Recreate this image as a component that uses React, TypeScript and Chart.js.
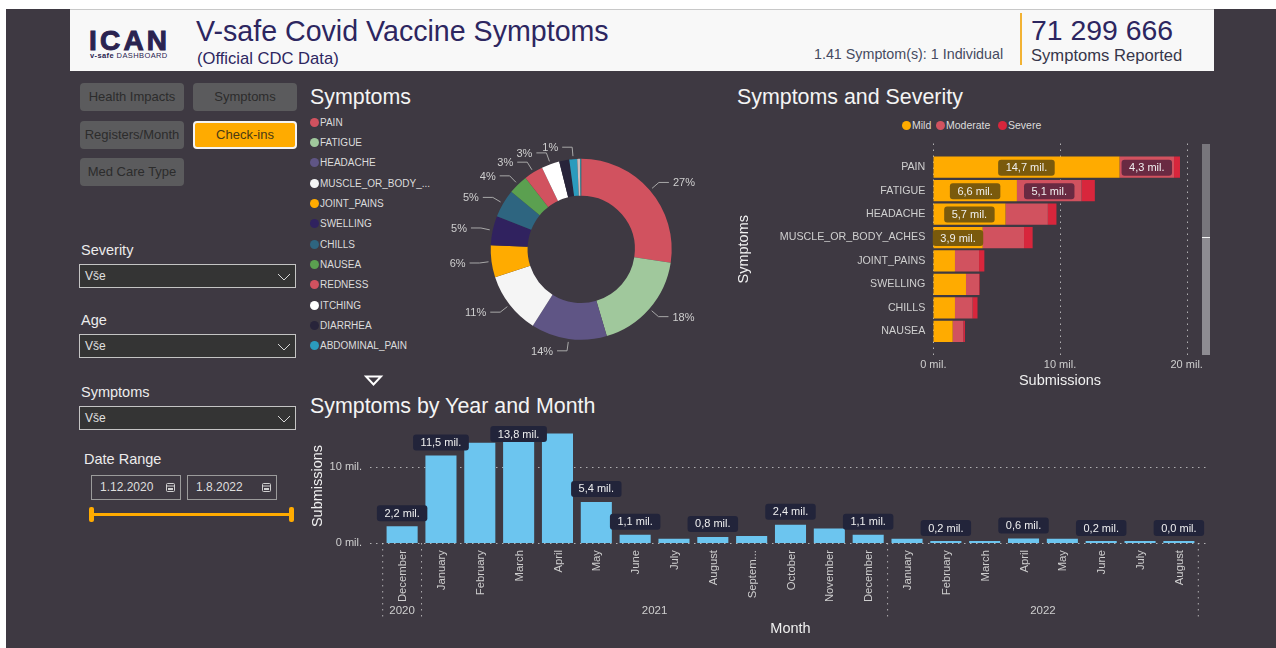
import React, { useEffect, useRef } from "react";
import { Chart, registerables } from "chart.js";

Chart.register(...registerables);

const FONT = '"Liberation Sans", Arial, sans-serif';
const BG = "#3e3942";
const NAVY = "#2d2660";
const TICK = "#cfcfcf";

// Donut
const symptomLabels = ["PAIN", "FATIGUE", "HEADACHE", "MUSCLE_OR_BODY_ACHES", "JOINT_PAINS", "SWELLING", "CHILLS", "NAUSEA", "REDNESS", "ITCHING", "DIARRHEA", "ABDOMINAL_PAIN", "OTHER", "OTHER_2"];
const symptomLegendText = ["PAIN", "FATIGUE", "HEADACHE", "MUSCLE_OR_BODY_...", "JOINT_PAINS", "SWELLING", "CHILLS", "NAUSEA", "REDNESS", "ITCHING", "DIARRHEA", "ABDOMINAL_PAIN"];
const symptomShare = [27.3, 18.0, 13.5, 11.0, 5.7, 5.2, 5.0, 3.5, 3.4, 3.2, 1.8, 1.4, 0.5, 0.2];
const symptomColors = ["#d1525f", "#a0c89c", "#5f5585", "#f5f5f5", "#ffab00", "#30225f", "#2e6580", "#5ba050", "#d1525f", "#ffffff", "#28243a", "#2b9bbd", "#cbbcbc", "#2f8f9f"];
const symptomPctShown = [true, true, true, true, true, true, true, true, true, true, false, true, false, false];

// Severity
const severityLabels = ["PAIN", "FATIGUE", "HEADACHE", "MUSCLE_OR_BODY_ACHES", "JOINT_PAINS", "SWELLING", "CHILLS", "NAUSEA"];
const mildValues = [14.7, 6.6, 5.7, 3.9, 1.71, 2.58, 1.71, 1.53];
const moderateValues = [4.3, 5.1, 3.34, 3.26, 1.9, 1.03, 1.39, 0.84];
const severeValues = [0.47, 1.05, 0.68, 0.68, 0.42, 0.05, 0.39, 0.13];
const mildLabelCount = 4;
const moderateLabelCount = 2;

// Monthly
const monthLabels = ["December", "January", "February", "March", "April", "May", "June", "July", "August", "Septem...", "October", "November", "December", "January", "February", "March", "April", "May", "June", "July", "August"];
const monthYears = [2020, 2021, 2021, 2021, 2021, 2021, 2021, 2021, 2021, 2021, 2021, 2021, 2021, 2022, 2022, 2022, 2022, 2022, 2022, 2022, 2022];
const monthValues = [2.2, 11.5, 13.2, 13.8, 14.4, 5.4, 1.1, 0.55, 0.8, 0.92, 2.4, 1.9, 1.1, 0.55, 0.2, 0.2, 0.6, 0.55, 0.2, 0.15, 0.04];
const monthLabelShown = [1, 1, 0, 1, 0, 1, 1, 0, 1, 0, 1, 0, 1, 0, 1, 0, 1, 0, 1, 0, 1];

const mil = (v: number) => v.toFixed(1).replace(".", ",") + " mil.";

function pill(ctx: CanvasRenderingContext2D, cx: number, cy: number, text: string, bg: string) {
  ctx.save();
  ctx.font = `11px ${FONT}`;
  const w = ctx.measureText(text).width + 15;
  const h = 16;
  ctx.fillStyle = bg;
  ctx.beginPath();
  (ctx as any).roundRect(cx - w / 2, cy - h / 2, w, h, 3);
  ctx.fill();
  ctx.fillStyle = "#efefef";
  ctx.textAlign = "center";
  ctx.textBaseline = "middle";
  ctx.fillText(text, cx, cy + 0.5);
  ctx.restore();
}

function dotted(ctx: CanvasRenderingContext2D, x1: number, y1: number, x2: number, y2: number) {
  ctx.save();
  ctx.strokeStyle = "rgba(215,215,215,0.75)";
  ctx.lineWidth = 1;
  ctx.setLineDash([1.5, 4.5]);
  ctx.beginPath();
  ctx.moveTo(x1, y1);
  ctx.lineTo(x2, y2);
  ctx.stroke();
  ctx.restore();
}

const donutLeaderPlugin = {
  id: "donutLeaders",
  afterDatasetsDraw(chart: any) {
    const { ctx } = chart;
    chart.getDatasetMeta(0).data.forEach((arc: any, i: number) => {
      if (!symptomPctShown[i]) return;
      const { x, y, startAngle, endAngle, outerRadius } = arc.getProps(["x", "y", "startAngle", "endAngle", "outerRadius"], true);
      const a = (startAngle + endAngle) / 2;
      const cos = Math.cos(a);
      const sin = Math.sin(a);
      const side = cos >= 0 ? 1 : -1;
      const ax = x + cos * (outerRadius + 3);
      const ay = y + sin * (outerRadius + 3);
      const bx = x + cos * (outerRadius + 12);
      const by = y + sin * (outerRadius + 12);
      const cx = bx + side * 10;
      ctx.save();
      ctx.strokeStyle = "#a8a8a8";
      ctx.lineWidth = 1;
      ctx.beginPath();
      ctx.moveTo(ax, ay);
      ctx.lineTo(bx, by);
      ctx.lineTo(cx, by);
      ctx.stroke();
      ctx.font = `11px ${FONT}`;
      ctx.fillStyle = TICK;
      ctx.textBaseline = "middle";
      ctx.textAlign = side > 0 ? "left" : "right";
      ctx.fillText(Math.round(symptomShare[i]) + "%", cx + side * 4, by + 1);
      ctx.restore();
    });
  },
};

const severityPlugin = {
  id: "severityExtras",
  beforeDatasetsDraw(chart: any) {
    const { ctx, chartArea, scales } = chart;
    scales.x.ticks.forEach((t: any) => {
      const px = Math.round(scales.x.getPixelForValue(t.value)) + 0.5;
      dotted(ctx, px, chartArea.top - 12, px, chartArea.bottom + 12);
    });
  },
  afterDatasetsDraw(chart: any) {
    const { ctx } = chart;
    const draw = (ds: number, count: number, values: number[], bg: string) => {
      chart.getDatasetMeta(ds).data.slice(0, count).forEach((el: any, i: number) => {
        const { x, y, base } = el.getProps(["x", "y", "base"], true);
        pill(ctx, (x + base) / 2, y + 0.5, mil(values[i]), bg);
      });
    };
    draw(0, mildLabelCount, mildValues, "#7a5a0c");
    draw(1, moderateLabelCount, moderateValues, "#692a42");
  },
};

const monthlyPlugin = {
  id: "monthlyExtras",
  beforeDatasetsDraw(chart: any) {
    const { ctx, chartArea, scales } = chart;
    scales.y.ticks.forEach((t: any) => {
      const py = Math.round(scales.y.getPixelForValue(t.value)) + 0.5;
      dotted(ctx, chartArea.left - 12.7, py, chartArea.right + 10.7, py);
    });
  },
  afterDatasetsDraw(chart: any) {
    const { ctx, chartArea, scales } = chart;
    const half = (scales.x.getPixelForValue(1) - scales.x.getPixelForValue(0)) / 2;
    const dividerBottom = chartArea.bottom + 75;
    const years = Array.from(new Set(monthYears));
    years.forEach((yr, k) => {
      const first = monthYears.indexOf(yr);
      const last = monthYears.lastIndexOf(yr);
      const x1 = scales.x.getPixelForValue(first) - half;
      const x2 = scales.x.getPixelForValue(last) + half;
      dotted(ctx, x1, chartArea.bottom, x1, dividerBottom);
      if (k === years.length - 1) dotted(ctx, x2, chartArea.bottom, x2, dividerBottom);
      ctx.save();
      ctx.font = `11.5px ${FONT}`;
      ctx.fillStyle = TICK;
      ctx.textAlign = "center";
      ctx.textBaseline = "middle";
      ctx.fillText(String(yr), (x1 + x2) / 2, chartArea.bottom + 67.5);
      ctx.restore();
    });
    chart.getDatasetMeta(0).data.forEach((el: any, i: number) => {
      if (!monthLabelShown[i]) return;
      const { x, y } = el.getProps(["x", "y"], true);
      pill(ctx, x, Math.max(y - 13, chartArea.top + 5), mil(monthValues[i]), "#22243a");
    });
  },
};

const Title = ({ x, y, text }: { x: number; y: number; text: string }) => (
  <div style={{ position: "absolute", left: x, top: y - 12, height: 26, lineHeight: "26px", fontSize: 21.4, color: "#f4f4f4", whiteSpace: "nowrap" }}>{text}</div>
);

const Btn = ({ x, y, text, active }: { x: number; y: number; text: string; active?: boolean }) => (
  <div style={{ position: "absolute", left: x, top: y, width: 104, height: 28, boxSizing: "border-box", borderRadius: 4, background: active ? "#ffab00" : "#5b5b5d", border: active ? "2px solid #f4f4f4" : "none", color: active ? "#4a3a14" : "#2c2c2c", fontSize: 13, textAlign: "center", lineHeight: active ? "24px" : "28px", whiteSpace: "nowrap" }}>{text}</div>
);

const Slicer = ({ label, labelY, top }: { label: string; labelY: number; top: number }) => (
  <>
    <div style={{ position: "absolute", left: 81, top: labelY - 9, lineHeight: "18px", fontSize: 14.5, color: "#ececec" }}>{label}</div>
    <div style={{ position: "absolute", left: 79, top, width: 217, height: 24, boxSizing: "border-box", background: "#343434", border: "1px solid #c4c4c4", color: "#e0e0e0", fontSize: 12, lineHeight: "23px", paddingLeft: 5 }}>
      Vše
      <svg width="14" height="8" style={{ position: "absolute", right: 4, top: 8 }}>
        <polyline points="1,1 7,7 13,1" fill="none" stroke="#d8d8d8" strokeWidth="1" />
      </svg>
    </div>
  </>
);

const DateBox = ({ x, text }: { x: number; text: string }) => (
  <div style={{ position: "absolute", left: x, top: 475, width: 90, height: 25, boxSizing: "border-box", border: "1px solid #9b9b9b", color: "#dedede", fontSize: 12, lineHeight: "23px", paddingLeft: 8 }}>
    {text}
    <svg width="9" height="9" style={{ position: "absolute", right: 5, top: 7 }}>
      <rect x="0.5" y="0.5" width="8" height="8" rx="1" fill="none" stroke="#d0d0d0" />
      <line x1="0" y1="3" x2="9" y2="3" stroke="#d0d0d0" />
      <rect x="2" y="5" width="5" height="2" fill="#d0d0d0" />
    </svg>
  </div>
);

const Dot = ({ x, y, c }: { x: number; y: number; c: string }) => (
  <div style={{ position: "absolute", left: x - 4.5, top: y - 4.5, width: 9, height: 9, borderRadius: "50%", background: c }} />
);

const Small = ({ x, y, text }: { x: number; y: number; text: string }) => (
  <div style={{ position: "absolute", left: x, top: y - 7, lineHeight: "14px", fontSize: 10.5, color: "#dcdcdc", whiteSpace: "nowrap" }}>{text}</div>
);

export default function App() {
  const donutRef = useRef<HTMLCanvasElement>(null);
  const sevRef = useRef<HTMLCanvasElement>(null);
  const monthRef = useRef<HTMLCanvasElement>(null);

  useEffect(() => {
    Chart.defaults.font.family = FONT;
    const donut = new Chart(donutRef.current!, {
      type: "doughnut",
      data: { labels: symptomLabels, datasets: [{ data: symptomShare, backgroundColor: symptomColors, borderWidth: 0 }] },
      options: {
        animation: false,
        responsive: false,
        cutout: "59.3%",
        layout: { padding: { left: 50.7, right: 38.3, top: 28.8, bottom: 30.2 } },
        plugins: { legend: { display: false }, tooltip: { enabled: false } },
      },
      plugins: [donutLeaderPlugin],
    } as any);

    const barCommon = { borderWidth: 0, barPercentage: 0.906, categoryPercentage: 1 };
    const sev = new Chart(sevRef.current!, {
      type: "bar",
      data: {
        labels: severityLabels,
        datasets: [
          { label: "Mild", data: mildValues, backgroundColor: "#ffab00", ...barCommon },
          { label: "Moderate", data: moderateValues, backgroundColor: "#d1525f", ...barCommon },
          { label: "Severe", data: severeValues, backgroundColor: "#d8263c", ...barCommon },
        ],
      },
      options: {
        animation: false,
        responsive: false,
        indexAxis: "y",
        layout: { padding: { top: 15.5, right: 33.3, left: 0, bottom: 0 } },
        plugins: { legend: { display: false }, tooltip: { enabled: false } },
        scales: {
          x: {
            stacked: true,
            min: 0,
            max: 20,
            grid: { display: false, drawTicks: false },
            border: { display: false },
            ticks: { stepSize: 10, padding: 15, color: TICK, font: { size: 11 }, callback: (v: any) => v + " mil." },
            title: { display: true, text: "Submissions", color: "#f0f0f0", font: { size: 14.5 }, padding: { top: 0, bottom: 0 } },
            afterFit: (s: any) => { s.height = 47; },
          },
          y: {
            stacked: true,
            grid: { display: false, drawTicks: false },
            border: { display: false },
            ticks: { padding: 8, color: TICK, font: { size: 10.7 }, autoSkip: false },
            title: { display: true, text: "Symptoms", color: "#f0f0f0", font: { size: 14.5 }, padding: { top: 5, bottom: 0 } },
            afterFit: (s: any) => { s.width = 203.3; },
          },
        },
      },
      plugins: [severityPlugin],
    } as any);

    const month = new Chart(monthRef.current!, {
      type: "bar",
      data: { labels: monthLabels, datasets: [{ data: monthValues, backgroundColor: "#6cc5ef", borderWidth: 0, barPercentage: 0.8, categoryPercentage: 1, minBarLength: 2 }] },
      options: {
        animation: false,
        responsive: false,
        layout: { padding: { top: 9, right: 41.7, left: 0, bottom: 0 } },
        plugins: { legend: { display: false }, tooltip: { enabled: false } },
        scales: {
          x: {
            grid: { display: false, drawTicks: false },
            border: { display: false },
            ticks: { color: TICK, font: { size: 11.3 }, autoSkip: false, maxRotation: 90, minRotation: 90, padding: 7, labelOffset: 1 },
            title: { display: true, text: "Month", color: "#f0f0f0", font: { size: 14.5 }, padding: { top: 0, bottom: 10 } },
            afterFit: (s: any) => { s.height = 105; },
          },
          y: {
            min: 0,
            max: 15,
            grid: { display: false, drawTicks: false },
            border: { display: false },
            ticks: { stepSize: 10, includeBounds: false, padding: 20.7, color: TICK, font: { size: 11 }, callback: (v: any) => v + " mil." },
            title: { display: true, text: "Submissions", color: "#f0f0f0", font: { size: 14.5 }, padding: { top: 9, bottom: 0 } },
            afterFit: (s: any) => { s.width = 82.7; s.paddingTop = 0; s.paddingBottom = 0; },
          },
        },
      },
      plugins: [monthlyPlugin],
    } as any);

    return () => {
      donut.destroy();
      sev.destroy();
      month.destroy();
    };
  }, []);

  return (
    <div style={{ position: "fixed", left: 0, top: 0, width: 1276, height: 648, overflow: "hidden", background: "#ffffff", fontFamily: FONT }}>
      <div style={{ position: "absolute", left: 6, top: 9, width: 1270, height: 639, background: BG }} />

      {/* header */}
      <div style={{ position: "absolute", left: 70, top: 10, width: 1144, height: 61, background: "#f8f8f8", boxShadow: "0 -1px 0 #c8c8c8" }} />
      <div style={{ position: "absolute", left: 89, top: 26, fontSize: 28, lineHeight: "30px", fontWeight: 700, letterSpacing: 3.2, color: "#2a2350", WebkitTextStroke: "1px #2a2350", whiteSpace: "nowrap" }}>ICAN</div>
      <div style={{ position: "absolute", left: 90, top: 51, fontSize: 7.5, lineHeight: "10px", letterSpacing: 0.4, color: "#2a2350", whiteSpace: "nowrap" }}><b>v-safe</b> DASHBOARD</div>
      <div style={{ position: "absolute", left: 196, top: 13, fontSize: 28.6, lineHeight: "36px", color: NAVY, whiteSpace: "nowrap" }}>V-safe Covid Vaccine Symptoms</div>
      <div style={{ position: "absolute", left: 197, top: 49, fontSize: 16.6, lineHeight: "20px", color: NAVY, whiteSpace: "nowrap" }}>(Official CDC Data)</div>
      <div style={{ position: "absolute", left: 814, top: 45, fontSize: 14.3, lineHeight: "18px", color: "#454a60", whiteSpace: "nowrap" }}>1.41 Symptom(s): 1 Individual</div>
      <div style={{ position: "absolute", left: 1020, top: 13, width: 2, height: 52, background: "#f2b233" }} />
      <div style={{ position: "absolute", left: 1031, top: 12, fontSize: 28.4, lineHeight: "36px", color: NAVY, whiteSpace: "nowrap" }}>71 299 666</div>
      <div style={{ position: "absolute", left: 1031, top: 46, fontSize: 16.6, lineHeight: "20px", color: "#36364a", whiteSpace: "nowrap" }}>Symptoms Reported</div>

      {/* left controls */}
      <Btn x={80} y={83} text="Health Impacts" />
      <Btn x={193} y={83} text="Symptoms" />
      <Btn x={80} y={121} text="Registers/Month" />
      <Btn x={193} y={121} text="Check-ins" active />
      <Btn x={80} y={158} text="Med Care Type" />
      <Slicer label="Severity" labelY={250} top={264} />
      <Slicer label="Age" labelY={320} top={334} />
      <Slicer label="Symptoms" labelY={392} top={406} />
      <div style={{ position: "absolute", left: 84, top: 450, lineHeight: "18px", fontSize: 14.5, color: "#ececec" }}>Date Range</div>
      <DateBox x={91} text="1.12.2020" />
      <DateBox x={187} text="1.8.2022" />
      <div style={{ position: "absolute", left: 91, top: 513, width: 200, height: 3, background: "#ffab00" }} />
      <div style={{ position: "absolute", left: 89, top: 507, width: 5, height: 15, borderRadius: 2, background: "#ffab00" }} />
      <div style={{ position: "absolute", left: 289, top: 507, width: 5, height: 15, borderRadius: 2, background: "#ffab00" }} />

      {/* titles */}
      <Title x={310} y={96} text="Symptoms" />
      <Title x={737} y={96} text="Symptoms and Severity" />
      <Title x={310} y={405} text="Symptoms by Year and Month" />

      {/* donut legend */}
      {symptomLegendText.map((t, i) => (
        <React.Fragment key={i}>
          <Dot x={314} y={122 + i * 20.36} c={symptomColors[i]} />
          <div style={{ position: "absolute", left: 320, top: 122.5 + i * 20.36 - 7, lineHeight: "14px", fontSize: 10, color: "#dcdcdc", whiteSpace: "nowrap" }}>{t}</div>
        </React.Fragment>
      ))}
      <svg width="20" height="12" style={{ position: "absolute", left: 364, top: 375 }}>
        <polygon points="2,1.5 17,1.5 9.5,9.5" fill="none" stroke="#ffffff" strokeWidth="2" />
      </svg>

      {/* severity legend */}
      <Dot x={906} y={125} c="#ffab00" />
      <Small x={912} y={125} text="Mild" />
      <Dot x={940} y={125} c="#d1525f" />
      <Small x={946} y={125} text="Moderate" />
      <Dot x={1002} y={125} c="#d8263c" />
      <Small x={1008} y={125} text="Severe" />

      {/* scrollbar */}
      <div style={{ position: "absolute", left: 1202, top: 144, width: 8, height: 93, background: "#78767c" }} />
      <div style={{ position: "absolute", left: 1202, top: 237, width: 8, height: 1, background: "#f4f4f4" }} />
      <div style={{ position: "absolute", left: 1202, top: 238, width: 8, height: 117, background: "#8e8c92" }} />

      <canvas ref={donutRef} width={270} height={240} style={{ position: "absolute", left: 440, top: 130, width: 270, height: 240 }} />
      <canvas ref={sevRef} width={490} height={250} style={{ position: "absolute", left: 730, top: 140, width: 490, height: 250 }} />
      <canvas ref={monthRef} width={940} height={228} style={{ position: "absolute", left: 300, top: 420, width: 940, height: 228 }} />
    </div>
  );
}
